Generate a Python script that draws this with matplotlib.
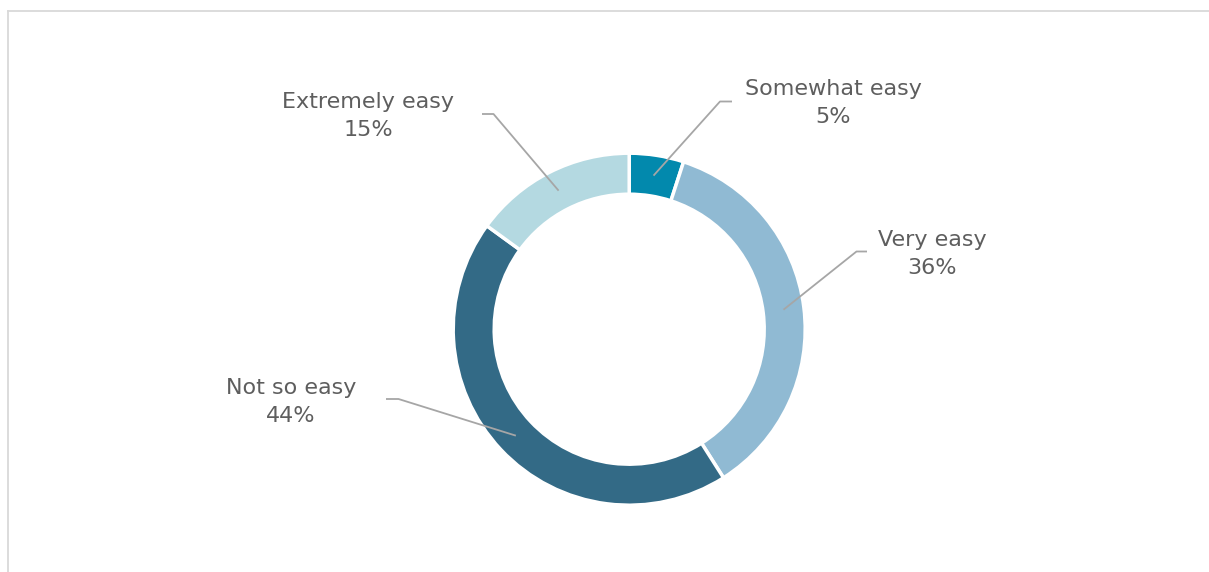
import numpy as np
import matplotlib.pyplot as plt
from matplotlib.lines import Line2D

# Respuestas a la pregunta (porcentaje)
categorias = ['Somewhat easy', 'Very easy', 'Not so easy', 'Extremely easy']
valores = [5, 36, 44, 15]
colores = ['#0289AD', '#90BAD3', '#336A86', '#B4D9E1']

# Posicion de cada etiqueta (texto y codo de la linea guia), en pixeles
pos_texto = [(833, 469), (932, 318), (291, 170.5), (368, 455.5)]
pos_codo = [(720, 470.5), (856.5, 320.5), (398.5, 173), (493.5, 458)]
pos_fin = [(732, 470.5), (867, 320.5), (386, 173), (482, 458)]

W, H = 1209, 572
fig = plt.figure(figsize=(W / 100, H / 100), dpi=100)
ax = fig.add_axes([0, 0, 1, 1])

centro = (629.2, H - 329.2)
r_ext = 176
ancho = 41

ax.pie(valores, colors=colores, startangle=90, counterclock=False,
       radius=r_ext, center=centro, frame=True,
       wedgeprops=dict(width=ancho, edgecolor='white', linewidth=2.5))
ax.set_xlim(0, W)
ax.set_ylim(0, H)
ax.set_aspect('equal')
ax.axis('off')

# Lineas guia y etiquetas
r_medio = r_ext - ancho / 2
total = sum(valores)
acum = 0
for i, v in enumerate(valores):
    ang = np.deg2rad(90 - (acum + v / 2) / total * 360)
    acum += v
    x0 = centro[0] + r_medio * np.cos(ang)
    y0 = centro[1] + r_medio * np.sin(ang)
    ax.plot([x0, pos_codo[i][0], pos_fin[i][0]],
            [y0, pos_codo[i][1], pos_fin[i][1]],
            color='#A6A6A6', lw=1.3, solid_capstyle='butt')
    ax.text(pos_texto[i][0], pos_texto[i][1],
            f'{categorias[i]}\n{v}%', ha='center', va='center',
            fontsize=16, color='#5E5E5E', family='DejaVu Sans',
            linespacing=1.5)

# Marco del grafico
fig.add_artist(Line2D([7.5 / W, 7.5 / W], [0, 1 - 10.5 / H],
                      transform=fig.transFigure, color='#D9D9D9', lw=1.3))
fig.add_artist(Line2D([7.5 / W, 1], [1 - 10.5 / H, 1 - 10.5 / H],
                      transform=fig.transFigure, color='#D9D9D9', lw=1.3))

fig.savefig('out.png', dpi=100, facecolor='white')
